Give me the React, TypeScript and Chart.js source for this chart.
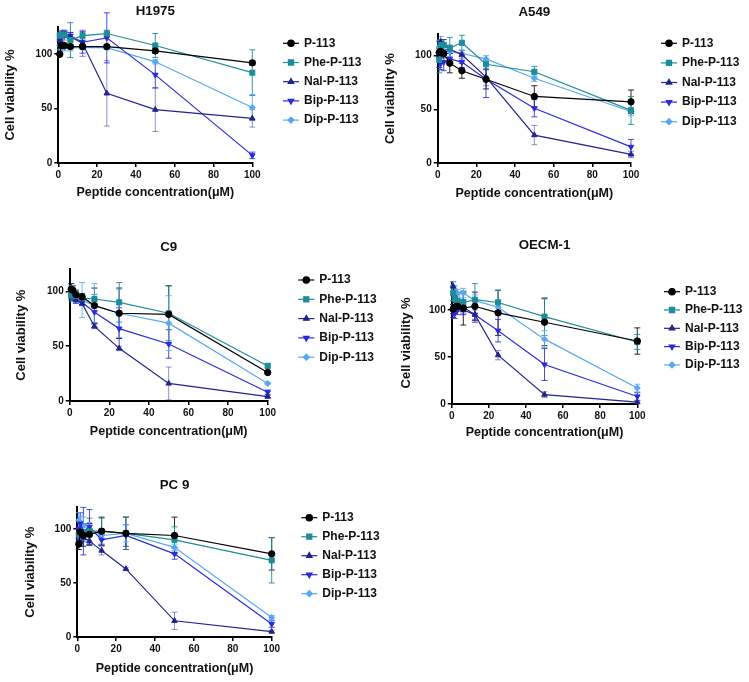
import React, { useEffect, useRef } from 'react';
import { Chart, registerables } from 'chart.js';
import { drawPoint } from 'chart.js/helpers';

Chart.register(...registerables);

// ---------- data ----------
const concentrations = [0.78, 1.56, 3.125, 6.25, 12.5, 25, 50, 100];
const seriesNames = ['P-113', 'Phe-P-113', 'Nal-P-113', 'Bip-P-113', 'Dip-P-113'];
const xTicks = [0, 20, 40, 60, 80, 100];
const yTicks = [0, 50, 100];
const panelTitles = ['H1975', 'A549', 'C9', 'OECM-1', 'PC 9'];
const yMaxima = [125, 120, 120, 130, 120];
const xAxisTitle = 'Peptide concentration(\u03bcM)';
const yAxisTitle = 'Cell viability %';

// rows: P-113, Phe, Nal, Bip, Dip
const h1975Mean = [
  [100, 108, 108, 107, 107, 107, 103, 92],
  [117, 118, 118, 113, 117, 119, 108, 83],
  [113, 118, 117, 116, 110, 64, 49, 41],
  [112, 116, 119, 117, 111, 115, 81, 7],
  [108, 106, 106, 106, 106, 106, 93, 51],
];
const h1975Err = [
  [0, 2, 2, 2, 2, 2, 2, 2],
  [3, 3, 3, 16, 3, 3, 11, 21],
  [5, 4, 4, 4, 12, 30, 20, 8],
  [4, 4, 3, 3, 10, 23, 12, 3],
  [4, 3, 3, 3, 2, 2, 2, 12],
];
const a549Mean = [
  [103, 104, 102, 93, 86, 78, 62, 57],
  [96, 110, 110, 107, 112, 92, 85, 49],
  [105, 113, 110, 106, 101, 80, 26, 8],
  [97, 93, 94, 97, 94, 78, 51, 15],
  [108, 108, 104, 104, 102, 97, 79, 48],
];
const a549Err = [
  [4, 4, 4, 9, 7, 9, 10, 11],
  [12, 5, 5, 10, 7, 5, 5, 13],
  [8, 5, 5, 4, 4, 8, 9, 3],
  [8, 6, 8, 5, 5, 17, 8, 7],
  [6, 4, 4, 5, 3, 3, 3, 4],
];
const c9Mean = [
  [102, 101, 97, 95, 87, 80, 79, 26],
  [97, 96, 96, 94, 93, 90, 80, 32],
  [97, 95, 92, 89, 68, 48, 16, 4],
  [98, 96, 93, 90, 81, 66, 52, 8],
  [100, 99, 96, 92, 87, 80, 71, 16],
];
const c9Err = [
  [5, 4, 4, 3, 16, 23, 26, 1],
  [5, 5, 4, 4, 4, 18, 25, 2],
  [3, 3, 2, 2, 2, 2, 15, 1],
  [4, 4, 4, 3, 10, 19, 13, 2],
  [5, 5, 5, 16, 20, 22, 25, 1],
];
const oecm1Mean = [
  [101, 103, 104, 102, 104, 97, 87, 67],
  [118, 112, 110, 108, 111, 108, 93, 66],
  [125, 115, 108, 100, 95, 52, 10, 2],
  [98, 96, 100, 103, 95, 78, 42, 8],
  [125, 122, 118, 118, 110, 103, 69, 17],
];
const oecm1Err = [
  [5, 5, 5, 18, 15, 24, 25, 14],
  [8, 6, 6, 10, 17, 13, 20, 8],
  [5, 5, 4, 4, 5, 5, 3, 1],
  [6, 5, 5, 8, 8, 12, 17, 4],
  [5, 4, 4, 5, 6, 8, 9, 4],
];
const pc9Mean = [
  [86, 97, 94, 95, 98, 96, 94, 77],
  [95, 93, 97, 98, 98, 96, 90, 71],
  [90, 88, 92, 89, 80, 63, 15, 5],
  [100, 105, 98, 102, 90, 94, 77, 12],
  [108, 106, 103, 100, 94, 96, 83, 18],
];
const pc9Err = [
  [5, 8, 10, 10, 13, 15, 17, 15],
  [5, 8, 8, 12, 12, 15, 12, 21],
  [5, 4, 4, 4, 4, 1, 8, 1],
  [8, 10, 22, 16, 5, 10, 5, 3],
  [7, 6, 8, 6, 4, 8, 3, 2],
];
const panelMeans = [h1975Mean, a549Mean, c9Mean, oecm1Mean, pc9Mean];
const panelErrs = [h1975Err, a549Err, c9Err, oecm1Err, pc9Err];

// ---------- styles ----------
const FONT = '"Liberation Sans", Arial, Helvetica, sans-serif';
const seriesColors = ['#000000', '#1f8c99', '#23238f', '#2b2bd9', '#58a8f0'];
const errorColors = [
  'rgba(20,20,20,0.9)',
  'rgba(31,140,153,0.9)',
  'rgba(35,35,143,0.5)',
  'rgba(43,43,217,0.85)',
  'rgba(88,168,240,0.85)',
];
const pointStyles = ['circle', 'rect', 'triangle', 'triangle', 'rectRot'];
const pointRotations = [0, 0, 0, 180, 0];
const pointRadii = [3.2, 3.6, 3.2, 3.2, 3.0];

// layout of each panel in page pixels
const layouts = [
  { L: 58.3, R: 252.3, T: 27, B: 163, titleY: 11, yTitleX: 10, xTitleY: 193, legendText: 304, legendY: 43.3, legendStep: 19.2 },
  { L: 437.7, R: 631, T: 34.2, B: 163, titleY: 12, yTitleX: 390, xTitleY: 193.3, legendText: 682, legendY: 43.3, legendStep: 19.6 },
  { L: 69.7, R: 267.7, T: 269.4, B: 401, titleY: 247.3, yTitleX: 21.7, xTitleY: 431.7, legendText: 319.3, legendY: 280, legendStep: 19.3 },
  { L: 451.7, R: 637.3, T: 281.8, B: 404, titleY: 245, yTitleX: 406.7, xTitleY: 432.7, legendText: 685, legendY: 291.7, legendStep: 18.3 },
  { L: 77.3, R: 271.7, T: 507.4, B: 637, titleY: 485, yTitleX: 30, xTitleY: 668.3, legendText: 322.3, legendY: 517.7, legendStep: 19 },
];

const W = 749;
const H = 682;
const Y_TITLE_SIZE = 13;
const X_TITLE_SIZE = 12.5;

function Panel({ index }: { index: number }) {
  const ref = useRef<HTMLCanvasElement | null>(null);
  useEffect(() => {
    const canvas = ref.current;
    if (!canvas) return;
    const lay = layouts[index];
    const means = panelMeans[index];
    const errs = panelErrs[index];
    const yHalf = (Y_TITLE_SIZE * 1.2) / 2;
    const xHalf = (X_TITLE_SIZE * 1.2) / 2;
    const padLeft = lay.yTitleX - yHalf;
    const yWidth = lay.L - padLeft;
    const xHeight = lay.xTitleY + xHalf - lay.B;
    const padBottom = H - lay.B - xHeight;

    const datasets = seriesNames.map((name, s) => ({
      label: name,
      data: concentrations.map((c, k) => ({ x: c, y: means[s][k] })),
      errors: errs[s],
      errorColor: errorColors[s],
      borderColor: seriesColors[s],
      backgroundColor: seriesColors[s],
      borderWidth: 1.2,
      pointStyle: pointStyles[s],
      pointRotation: pointRotations[s],
      pointRadius: pointRadii[s],
      pointBorderWidth: 1,
      pointBackgroundColor: seriesColors[s],
      pointBorderColor: seriesColors[s],
      tension: 0,
      clip: false,
      fill: false,
    }));

    const errorBarPlugin = {
      id: 'errorBars',
      beforeDatasetsDraw(chart: any) {
        const ctx = chart.ctx;
        const ys = chart.scales.y;
        chart.data.datasets.forEach((ds: any, i: number) => {
          const meta = chart.getDatasetMeta(i);
          ctx.save();
          ctx.strokeStyle = ds.errorColor;
          ctx.lineWidth = 1;
          meta.data.forEach((pt: any, j: number) => {
            const e = ds.errors[j];
            if (!e) return;
            const v = ds.data[j].y;
            const x = pt.x;
            const yT = ys.getPixelForValue(v + e);
            const yB = ys.getPixelForValue(Math.max(0, v - e));
            ctx.beginPath();
            ctx.moveTo(x, yT);
            ctx.lineTo(x, yB);
            ctx.moveTo(x - 3, yT);
            ctx.lineTo(x + 3, yT);
            ctx.moveTo(x - 3, yB);
            ctx.lineTo(x + 3, yB);
            ctx.stroke();
          });
          ctx.restore();
        });
      },
    };

    const decorPlugin = {
      id: 'decor',
      afterDraw(chart: any) {
        const ctx = chart.ctx;
        const area = chart.chartArea;
        ctx.save();
        ctx.fillStyle = '#111';
        ctx.font = `bold 13.3px ${FONT}`;
        ctx.textAlign = 'center';
        ctx.textBaseline = 'middle';
        ctx.fillText(panelTitles[index], (area.left + area.right) / 2, lay.titleY);

        ctx.font = `bold 12px ${FONT}`;
        ctx.textAlign = 'left';
        seriesNames.forEach((name, s) => {
          const yy = lay.legendY + s * lay.legendStep;
          const x0 = lay.legendText - 21;
          ctx.strokeStyle = seriesColors[s];
          ctx.fillStyle = seriesColors[s];
          ctx.lineWidth = 1.2;
          ctx.beginPath();
          ctx.moveTo(x0, yy);
          ctx.lineTo(x0 + 16, yy);
          ctx.stroke();
          drawPoint(ctx, { pointStyle: pointStyles[s], rotation: pointRotations[s], radius: pointRadii[s], borderWidth: 1 } as any, x0 + 8, yy);
          ctx.fillStyle = '#111';
          ctx.fillText(name, lay.legendText, yy);
        });
        ctx.restore();
      },
    };

    const chart = new Chart(canvas, {
      type: 'line',
      data: { datasets: datasets as any },
      options: {
        responsive: false,
        animation: false,
        events: [],
        layout: {
          padding: { left: padLeft, right: W - lay.R, top: lay.T, bottom: padBottom },
        },
        plugins: {
          legend: { display: false },
          tooltip: { enabled: false },
          title: { display: false },
        },
        scales: {
          x: {
            type: 'linear',
            min: 0,
            max: 100,
            afterBuildTicks: (scale: any) => {
              scale.ticks = xTicks.map((v) => ({ value: v }));
            },
            afterFit: (scale: any) => {
              scale.height = xHeight;
            },
            grid: { display: true, drawOnChartArea: false, drawTicks: true, tickLength: 4, color: '#000', lineWidth: 1.5 },
            border: { display: true, color: '#000', width: 2 },
            ticks: { color: '#111', font: { family: FONT, size: 10, weight: 'bold' }, padding: 2, maxRotation: 0, autoSkip: false },
            title: { display: true, text: xAxisTitle, color: '#111', font: { family: FONT, size: X_TITLE_SIZE, weight: 'bold' }, padding: 0 },
          },
          y: {
            type: 'linear',
            min: 0,
            max: yMaxima[index],
            afterBuildTicks: (scale: any) => {
              scale.ticks = yTicks.map((v) => ({ value: v }));
            },
            afterFit: (scale: any) => {
              scale.width = yWidth;
            },
            grid: { display: true, drawOnChartArea: false, drawTicks: true, tickLength: 4, color: '#000', lineWidth: 1.5 },
            border: { display: true, color: '#000', width: 2 },
            ticks: { color: '#111', font: { family: FONT, size: 10, weight: 'bold' }, padding: 2, autoSkip: false },
            title: { display: true, text: yAxisTitle, color: '#111', font: { family: FONT, size: Y_TITLE_SIZE, weight: 'bold' }, padding: 0 },
          },
        },
      } as any,
      plugins: [errorBarPlugin, decorPlugin],
    });
    return () => chart.destroy();
  }, [index]);
  return (
    <canvas
      ref={ref}
      width={W}
      height={H}
      style={{ position: 'absolute', left: 0, top: 0, width: W, height: H }}
    />
  );
}

export default function App() {
  return (
    <div style={{ position: 'absolute', left: 0, top: 0, width: W, height: H, background: '#fff', overflow: 'hidden' }}>
      {panelTitles.map((t, i) => (
        <Panel key={t} index={i} />
      ))}
    </div>
  );
}
